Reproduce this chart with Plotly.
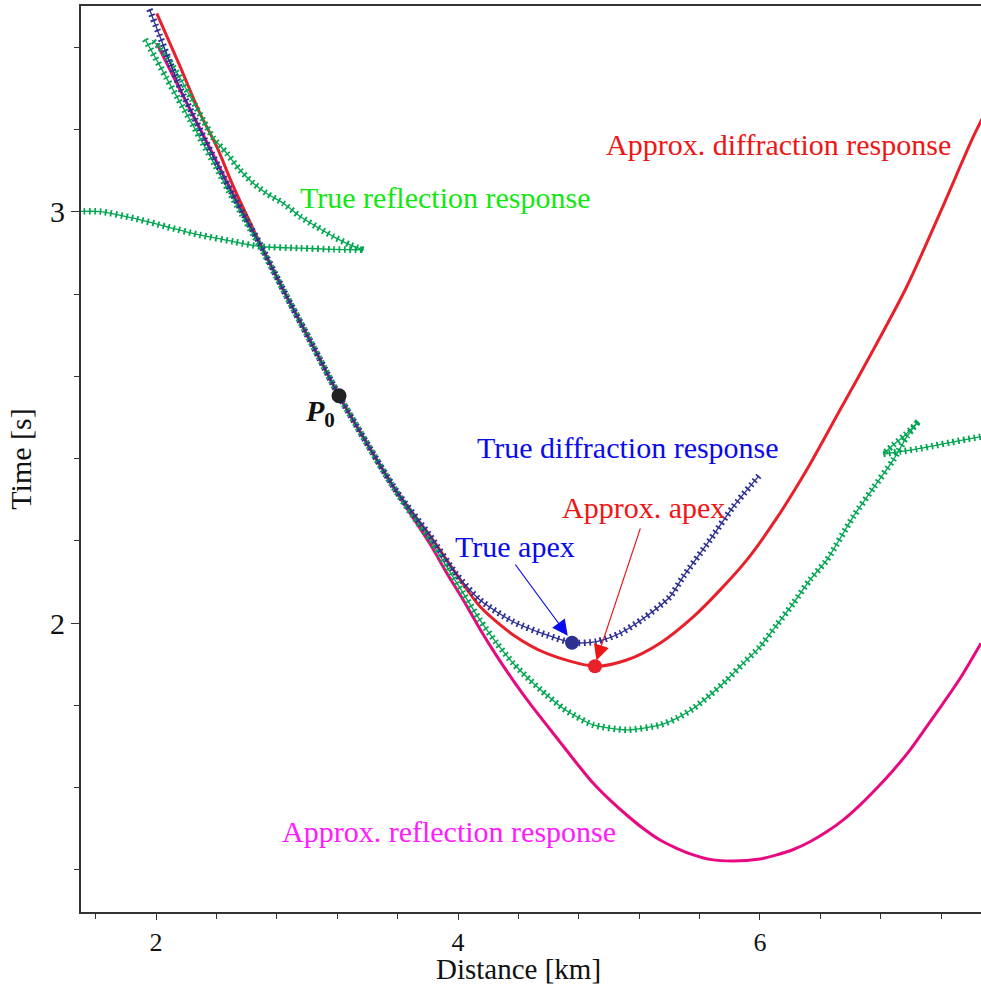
import plotly.graph_objects as go

# Approximate diffraction response (solid red)
approx_diff_x = [2.005, 2.159, 2.291, 2.402, 2.512, 2.689, 2.866, 3.042, 3.212, 3.384, 3.596,
                 3.815, 3.993, 4.146, 4.366, 4.587, 4.907, 5.117, 5.338, 5.558, 5.735, 5.912,
                 6.111, 6.309, 6.530, 6.750, 6.972, 7.192, 7.413, 7.490]
approx_diff_t = [3.483, 3.354, 3.240, 3.159, 3.062, 2.924, 2.794, 2.672, 2.553, 2.445, 2.319,
                 2.212, 2.117, 2.040, 1.971, 1.926, 1.895, 1.910, 1.951, 2.015, 2.080, 2.153,
                 2.255, 2.372, 2.518, 2.664, 2.818, 2.997, 3.183, 3.240]

# True diffraction response (navy crosses)
true_diff_x = [1.956, 2.026, 2.093, 2.159, 2.238, 2.325, 2.411, 2.503, 2.596, 2.689, 2.866,
               3.042, 3.212, 3.384, 3.596, 3.815, 3.993, 4.146, 4.366, 4.587, 4.757, 4.918,
               5.073, 5.227, 5.404, 5.490, 5.669, 5.821, 5.993]
true_diff_t = [3.493, 3.427, 3.363, 3.302, 3.241, 3.175, 3.112, 3.046, 2.983, 2.922, 2.794,
               2.672, 2.553, 2.445, 2.319, 2.212, 2.117, 2.056, 2.003, 1.971, 1.952, 1.955,
               1.975, 2.011, 2.064, 2.112, 2.202, 2.282, 2.358]

# Approximate reflection response (solid magenta)
approx_refl_x = [2.005, 2.159, 2.325, 2.503, 2.689, 2.866, 3.042, 3.212, 3.384, 3.550, 3.660,
                 3.815, 3.925, 4.035, 4.146, 4.256, 4.366, 4.477, 4.675, 4.786, 4.896, 5.007,
                 5.117, 5.227, 5.338, 5.448, 5.558, 5.669, 5.823, 6.000, 6.111, 6.221, 6.331,
                 6.442, 6.552, 6.662, 6.773, 6.883, 6.993, 7.104, 7.214, 7.325, 7.464]
approx_refl_t = [3.410, 3.297, 3.178, 3.049, 2.920, 2.794, 2.672, 2.553, 2.445, 2.343, 2.280,
                 2.192, 2.122, 2.056, 1.985, 1.920, 1.860, 1.804, 1.711, 1.659, 1.610, 1.569,
                 1.533, 1.500, 1.472, 1.452, 1.436, 1.425, 1.421, 1.426, 1.436, 1.449, 1.468,
                 1.492, 1.521, 1.557, 1.598, 1.642, 1.691, 1.748, 1.805, 1.865, 1.951]

# True reflection response, split into its branches between cusps
refl_flat_x = [1.483, 1.629, 1.850, 2.071, 2.291, 2.512, 2.689, 2.954, 3.174, 3.373]
refl_flat_t = [3.001, 3.001, 2.985, 2.964, 2.944, 2.928, 2.916, 2.912, 2.909, 2.908]

refl_back_x = [3.373, 3.285, 3.174, 3.064, 2.954, 2.843, 2.733, 2.644, 2.556, 2.468, 2.379,
               2.311, 2.238, 2.166, 2.093, 2.026, 1.974]
refl_back_t = [2.908, 2.920, 2.940, 2.964, 2.989, 3.021, 3.045, 3.070, 3.102, 3.143, 3.180,
               3.224, 3.273, 3.321, 3.365, 3.399, 3.418]

refl_main_x = [1.927, 1.993, 2.066, 2.146, 2.225, 2.305, 2.391, 2.477, 2.563, 2.649, 2.689,
               2.866, 3.042, 3.212, 3.384, 3.550, 3.660, 3.815, 3.925, 4.035, 4.146, 4.256,
               4.366, 4.477, 4.587, 4.697, 4.786, 4.896, 5.117, 5.338, 5.448, 5.558, 5.669,
               5.779, 5.889, 6.000, 6.111, 6.221, 6.331, 6.442, 6.618, 6.750, 6.883, 6.972,
               7.048]
refl_main_t = [3.420, 3.377, 3.328, 3.275, 3.224, 3.170, 3.114, 3.054, 2.998, 2.942, 2.917,
               2.794, 2.672, 2.553, 2.445, 2.343, 2.282, 2.202, 2.137, 2.072, 2.007, 1.951,
               1.902, 1.861, 1.825, 1.792, 1.772, 1.752, 1.740, 1.752, 1.768, 1.792, 1.825,
               1.861, 1.902, 1.942, 1.995, 2.048, 2.105, 2.153, 2.259, 2.328, 2.397, 2.453,
               2.490]

refl_fold_x = [7.048, 6.960, 6.883, 6.817]
refl_fold_t = [2.490, 2.457, 2.433, 2.411]

refl_tail_x = [6.817, 6.927, 7.038, 7.148, 7.258, 7.369, 7.490]
refl_tail_t = [2.411, 2.417, 2.423, 2.431, 2.439, 2.447, 2.455]

# Marked points
p0 = (3.212, 2.553)
true_apex = (4.755, 1.952)
approx_apex = (4.907, 1.895)

RED = "#e8202a"
MAGENTA = "#e6097f"
NAVY = "#2e3192"
GREEN = "#00a651"
FONT = "Liberation Serif"

fig = go.Figure()

fig.add_trace(go.Scatter(x=approx_refl_x, y=approx_refl_t, mode="lines",
                         line=dict(color=MAGENTA, width=3, shape="spline", smoothing=0.8),
                         hoverinfo="skip"))
fig.add_trace(go.Scatter(x=approx_diff_x, y=approx_diff_t, mode="lines",
                         line=dict(color=RED, width=3, shape="spline", smoothing=0.8),
                         hoverinfo="skip"))


def crosses(xs, ys, color):
    # thin spine plus short perpendicular dashes, giving a "+ + +" look
    fig.add_trace(go.Scatter(x=xs, y=ys, mode="lines",
                             line=dict(color=color, width=1.3, shape="spline", smoothing=0.7),
                             hoverinfo="skip"))
    fig.add_trace(go.Scatter(x=xs, y=ys, mode="lines",
                             line=dict(color=color, width=6.5, dash="1.8px,3.6px",
                                       shape="spline", smoothing=0.7),
                             hoverinfo="skip"))


for bx, bt in [(refl_flat_x, refl_flat_t), (refl_back_x, refl_back_t),
               (refl_main_x, refl_main_t), (refl_fold_x, refl_fold_t),
               (refl_tail_x, refl_tail_t)]:
    crosses(bx, bt, GREEN)
crosses(true_diff_x, true_diff_t, NAVY)

fig.add_trace(go.Scatter(x=[p0[0]], y=[p0[1]], mode="markers",
                         marker=dict(color="#222222", size=15), hoverinfo="skip"))
fig.add_trace(go.Scatter(x=[true_apex[0]], y=[true_apex[1]], mode="markers",
                         marker=dict(color=NAVY, size=14), hoverinfo="skip"))
fig.add_trace(go.Scatter(x=[approx_apex[0]], y=[approx_apex[1]], mode="markers",
                         marker=dict(color=RED, size=14), hoverinfo="skip"))

labels = [
    ("Approx. diffraction response", 4.967, 3.163, "#f01515"),
    ("True reflection response", 2.940, 3.034, "#11e811"),
    ("True diffraction response", 4.113, 2.428, "#0a0aee"),
    ("Approx. apex", 4.675, 2.282, "#f01515"),
    ("True apex", 3.967, 2.187, "#0a0aee"),
    ("Approx. reflection response", 2.821, 1.494, "#ff1aff"),
]
for text, x, y, color in labels:
    fig.add_annotation(x=x, y=y, text=text, showarrow=False, xanchor="left",
                       font=dict(family=FONT, size=30, color=color))

fig.add_annotation(x=3.085, y=2.51, text="<b><i>P</i><sub>0</sub></b>", showarrow=False,
                   font=dict(family=FONT, size=30, color="#111111"))

# pointer arrows to the two apexes
fig.add_annotation(x=4.727, y=1.969, ax=4.372, ay=2.146, xref="x", yref="y",
                   axref="x", ayref="y", text="", showarrow=True, arrowhead=2,
                   arrowsize=2.6, arrowwidth=1.2, arrowcolor="#0a0aee")
fig.add_annotation(x=4.917, y=1.909, ax=5.211, ay=2.234, xref="x", yref="y",
                   axref="x", ayref="y", text="", showarrow=True, arrowhead=2,
                   arrowsize=2.6, arrowwidth=1.2, arrowcolor="#f01515")

# x-axis title placed just under the tick labels
fig.add_annotation(x=0.4856, y=-0.0627, xref="paper", yref="paper", text="Distance [km]",
                   showarrow=False, xanchor="center", yanchor="middle",
                   font=dict(family=FONT, size=29, color="#111111"))

axis_common = dict(showgrid=False, zeroline=False, showline=True, linecolor="#333333",
                   linewidth=2, ticks="outside", tickcolor="#333333", tickwidth=1.3)

fig.update_xaxes(range=[1.503, 7.464], tickvals=[2, 4, 6], ticklen=6, mirror=True,
                 tickfont=dict(family=FONT, size=26, color="#111111"),
                 minor=dict(tick0=1.6, dtick=0.4, ticks="outside", ticklen=5,
                            tickcolor="#333333", tickwidth=1.3),
                 **axis_common)
fig.update_yaxes(range=[1.297, 3.501], tickvals=[2, 3], ticklen=8,
                 tickfont=dict(family=FONT, size=30, color="#111111"),
                 minor=dict(tick0=1.4, dtick=0.2, ticks="outside", ticklen=5,
                            tickcolor="#333333", tickwidth=1.3),
                 title=dict(text="Time [s]", font=dict(family=FONT, size=30, color="#111111"),
                            standoff=10),
                 **axis_common)

fig.update_layout(width=981, height=987, margin=dict(l=81, r=0, t=6, b=75),
                  paper_bgcolor="white", plot_bgcolor="white", showlegend=False)

fig.write_html("out.html")
